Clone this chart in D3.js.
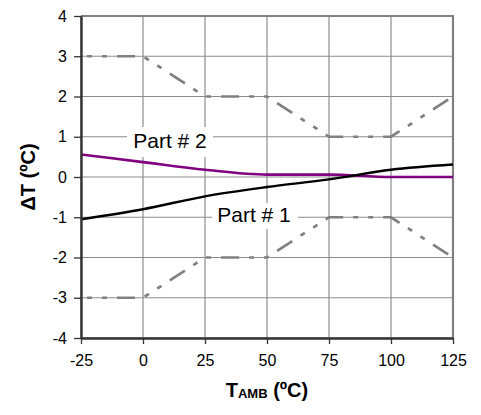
<!DOCTYPE html>
<html>
<head>
<meta charset="utf-8">
<script src="https://cdn.jsdelivr.net/npm/d3@7"></script>
<style>
  body { margin: 0; background: #fff; }
  text { font-family: "Liberation Sans", Arial, sans-serif; }
</style>
</head>
<body>
<div id="chart"></div>
<script>
// Data
var temps = [-25, 0, 25, 50, 75, 100, 125]
var part1 = [-1.05, -0.8, -0.48, -0.25, -0.06, 0.18, 0.31]
var part2 = [0.56, 0.37, 0.18, 0.06, 0.06, 0.0, 0.0]
var limitUpper = [3, 3, 2, 2, 1, 1, 2]
var limitLower = [-3, -3, -2, -2, -1, -1, -2]
var xTicks = [-25, 0, 25, 50, 75, 100, 125]
var yTicks = [-4, -3, -2, -1, 0, 1, 2, 3, 4]

var width = 481
var height = 415
var margin = {top: 16, right: 28, bottom: 77, left: 81}

var svg = d3.select("#chart")
  .append("svg")
  .attr("width", width)
  .attr("height", height)

var xScale = d3.scaleLinear()
  .domain([-25, 125])
  .range([margin.left, width - margin.right])

var yScale = d3.scaleLinear()
  .domain([-4, 4])
  .range([height - margin.bottom, margin.top])

// Grid
svg.append("g")
  .attr("class", "grid")
  .selectAll("line.h")
  .data(yTicks)
  .enter()
  .append("line")
  .attr("x1", margin.left)
  .attr("x2", width - margin.right)
  .attr("y1", d => yScale(d))
  .attr("y2", d => yScale(d))
  .style("stroke", "#8c8c8c")
  .style("stroke-width", 1.2)

svg.append("g")
  .attr("class", "grid")
  .selectAll("line.v")
  .data(xTicks)
  .enter()
  .append("line")
  .attr("x1", d => xScale(d))
  .attr("x2", d => xScale(d))
  .attr("y1", margin.top)
  .attr("y2", height - margin.bottom)
  .style("stroke", "#8c8c8c")
  .style("stroke-width", 1.2)

// Top and right border
svg.append("path")
  .attr("d", `M${margin.left},${margin.top}H${width - margin.right}V${height - margin.bottom}`)
  .style("fill", "none")
  .style("stroke", "#808080")
  .style("stroke-width", 2.2)

// Label boxes (white behind text)
var labels = [
  {text: "Part # 2", x: 170, y: 148, box: [127, 127, 86, 30]},
  {text: "Part # 1", x: 254, y: 222, box: [212, 203, 86, 26]}
]

svg.selectAll("rect.lbl")
  .data(labels)
  .enter()
  .append("rect")
  .attr("x", d => d.box[0])
  .attr("y", d => d.box[1])
  .attr("width", d => d.box[2])
  .attr("height", d => d.box[3])
  .style("fill", "#fff")

// Lines
var line = d3.line()
  .x((d, i) => xScale(temps[i]))
  .y(d => yScale(d))

var smooth = d3.line()
  .x((d, i) => xScale(temps[i]))
  .y(d => yScale(d))
  .curve(d3.curveMonotoneX)

;[limitUpper, limitLower].forEach(function(s) {
  svg.append("path")
    .attr("class", "line limit")
    .attr("d", line(s))
    .style("fill", "none")
    .style("stroke", "#808080")
    .style("stroke-width", 2.7)
    .style("stroke-dasharray", "5,10,5,10,18,10")
    .style("stroke-dashoffset", 52)
})

svg.append("path")
  .attr("class", "line part2")
  .attr("d", smooth(part2))
  .style("fill", "none")
  .style("stroke", "#800080")
  .style("stroke-width", 2.6)

svg.append("path")
  .attr("class", "line part1")
  .attr("d", smooth(part1))
  .style("fill", "none")
  .style("stroke", "#000")
  .style("stroke-width", 2.4)

svg.selectAll("text.lbl")
  .data(labels)
  .enter()
  .append("text")
  .attr("x", d => d.x)
  .attr("y", d => d.y)
  .text(d => d.text)
  .style("text-anchor", "middle")
  .style("font-size", "21px")
  .style("fill", "#000")

// Axes
var yAxis = d3.axisLeft(yScale)
  .tickValues(yTicks)
  .tickSize(7)
  .tickPadding(7)
  .tickSizeOuter(0)
  .tickFormat(d => String(d))

var xAxis = d3.axisBottom(xScale)
  .tickValues(xTicks)
  .tickSize(6)
  .tickPadding(11)
  .tickSizeOuter(0)
  .tickFormat(d => String(d))

var gy = svg.append("g")
  .attr("transform", `translate(${margin.left},0)`)
  .call(yAxis)

var gx = svg.append("g")
  .attr("transform", `translate(0,${height - margin.bottom})`)
  .call(xAxis)

;[gx, gy].forEach(function(g) {
  g.select(".domain").style("stroke", "#333").style("stroke-width", 2.4)
  g.selectAll(".tick line").style("stroke", "#333").style("stroke-width", 1.3)
  g.selectAll(".tick text")
    .style("font-size", "16px")
    .style("font-family", "'Liberation Sans', Arial, sans-serif")
    .style("fill", "#000")
})

// Axis titles
svg.append("text")
  .attr("transform", `translate(35,${yScale(0)}) rotate(-90)`)
  .text("ΔT (ºC)")
  .style("text-anchor", "middle")
  .style("font-size", "20px")
  .style("font-weight", "bold")

var xt = svg.append("text")
  .attr("x", xScale(50))
  .attr("y", 397)
  .style("text-anchor", "middle")
  .style("font-size", "20px")
  .style("font-weight", "bold")

xt.append("tspan").text("T")
xt.append("tspan").text("AMB").style("font-size", "13px").attr("dy", 1)
xt.append("tspan").text(" (ºC)").style("font-size", "20px").attr("dy", -1)
</script>
</body>
</html>
